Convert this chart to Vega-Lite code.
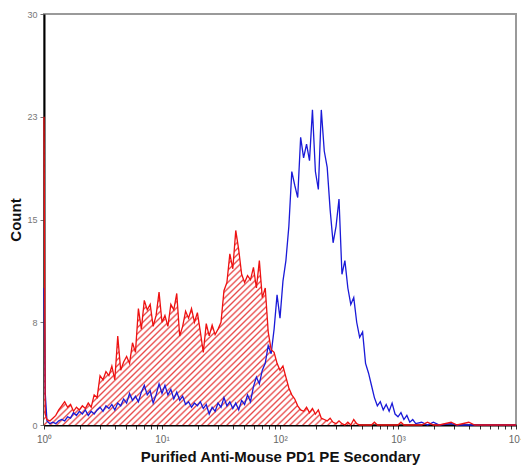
{
  "$schema": "https://vega.github.io/schema/vega-lite/v6.json",
  "width": 472,
  "height": 411,
  "autosize": {"type": "none"},
  "padding": {"left": 44, "top": 14, "right": 5, "bottom": 43},
  "background": "white",
  "config": {
    "view": {"stroke": "#9a9a9a", "strokeWidth": 2},
    "font": "Liberation Sans"
  },
  "data": {"values": [
    {"ch": 1, "isotype": 22.5, "pd1": 10},
    {"ch": 1.0233, "isotype": 0.8, "pd1": 2.4},
    {"ch": 1.0593, "isotype": 0.4, "pd1": 0.3},
    {"ch": 1.122, "isotype": 0.3, "pd1": 0.1},
    {"ch": 1.1885, "isotype": 0.5, "pd1": 0.2},
    {"ch": 1.2589, "isotype": 0.7, "pd1": 0.1},
    {"ch": 1.3335, "isotype": 1.1, "pd1": 0.3},
    {"ch": 1.4125, "isotype": 1.4, "pd1": 0.4},
    {"ch": 1.4962, "isotype": 1.7, "pd1": 0.3},
    {"ch": 1.5849, "isotype": 1.3, "pd1": 0.6},
    {"ch": 1.6788, "isotype": 1.5, "pd1": 0.5},
    {"ch": 1.7783, "isotype": 1.0, "pd1": 0.9},
    {"ch": 1.8836, "isotype": 1.3, "pd1": 0.7},
    {"ch": 1.9953, "isotype": 1.1, "pd1": 1.0},
    {"ch": 2.1135, "isotype": 1.4, "pd1": 0.8},
    {"ch": 2.2387, "isotype": 1.2, "pd1": 1.1},
    {"ch": 2.3714, "isotype": 1.6, "pd1": 0.7},
    {"ch": 2.5119, "isotype": 1.3, "pd1": 1.0},
    {"ch": 2.6607, "isotype": 2.2, "pd1": 0.8},
    {"ch": 2.8184, "isotype": 2.0, "pd1": 1.1},
    {"ch": 2.9854, "isotype": 3.6, "pd1": 1.3},
    {"ch": 3.1623, "isotype": 3.3, "pd1": 1.0},
    {"ch": 3.3497, "isotype": 3.9, "pd1": 1.4},
    {"ch": 3.5481, "isotype": 3.6, "pd1": 1.2},
    {"ch": 3.7584, "isotype": 4.3, "pd1": 1.5},
    {"ch": 3.9811, "isotype": 3.3, "pd1": 1.1},
    {"ch": 4.217, "isotype": 6.5, "pd1": 1.6},
    {"ch": 4.4668, "isotype": 4.0, "pd1": 1.4},
    {"ch": 4.7315, "isotype": 4.6, "pd1": 1.9},
    {"ch": 5.0119, "isotype": 5.0, "pd1": 1.6},
    {"ch": 5.3088, "isotype": 4.5, "pd1": 2.3},
    {"ch": 5.6234, "isotype": 6.0, "pd1": 1.8},
    {"ch": 5.9566, "isotype": 5.3, "pd1": 2.1},
    {"ch": 6.3096, "isotype": 8.5, "pd1": 1.7},
    {"ch": 6.6834, "isotype": 7.0, "pd1": 2.4},
    {"ch": 7.0795, "isotype": 9.1, "pd1": 2.9},
    {"ch": 7.4989, "isotype": 8.4, "pd1": 2.2},
    {"ch": 7.9433, "isotype": 8.8, "pd1": 2.5},
    {"ch": 8.414, "isotype": 7.2, "pd1": 1.6},
    {"ch": 8.9125, "isotype": 8.0, "pd1": 2.2},
    {"ch": 9.4406, "isotype": 9.7, "pd1": 3.0},
    {"ch": 10, "isotype": 7.5, "pd1": 2.3},
    {"ch": 10.593, "isotype": 8.0, "pd1": 2.9},
    {"ch": 11.22, "isotype": 7.2, "pd1": 2.2},
    {"ch": 11.885, "isotype": 8.8, "pd1": 2.6},
    {"ch": 12.589, "isotype": 8.4, "pd1": 1.9},
    {"ch": 13.335, "isotype": 9.6, "pd1": 2.4},
    {"ch": 14.125, "isotype": 6.5, "pd1": 1.8},
    {"ch": 14.962, "isotype": 7.2, "pd1": 2.1},
    {"ch": 15.849, "isotype": 8.3, "pd1": 1.5},
    {"ch": 16.788, "isotype": 7.8, "pd1": 1.7},
    {"ch": 17.783, "isotype": 8.5, "pd1": 1.3},
    {"ch": 18.836, "isotype": 7.5, "pd1": 1.6},
    {"ch": 19.953, "isotype": 8.2, "pd1": 1.4},
    {"ch": 21.135, "isotype": 6.8, "pd1": 1.7},
    {"ch": 22.387, "isotype": 5.3, "pd1": 1.2},
    {"ch": 23.714, "isotype": 7.4, "pd1": 1.5},
    {"ch": 25.119, "isotype": 6.5, "pd1": 0.8},
    {"ch": 26.607, "isotype": 7.3, "pd1": 1.3},
    {"ch": 28.184, "isotype": 6.6, "pd1": 1.0},
    {"ch": 29.854, "isotype": 7.0, "pd1": 1.6},
    {"ch": 31.623, "isotype": 7.5, "pd1": 1.3},
    {"ch": 33.497, "isotype": 9.8, "pd1": 2.0},
    {"ch": 35.481, "isotype": 10.4, "pd1": 1.4},
    {"ch": 37.584, "isotype": 12.5, "pd1": 1.7},
    {"ch": 39.811, "isotype": 11.4, "pd1": 1.2},
    {"ch": 42.17, "isotype": 14.2, "pd1": 1.6},
    {"ch": 44.668, "isotype": 12.8, "pd1": 1.1},
    {"ch": 47.315, "isotype": 11.0, "pd1": 1.8},
    {"ch": 50.119, "isotype": 10.4, "pd1": 1.5},
    {"ch": 53.088, "isotype": 10.9, "pd1": 2.2},
    {"ch": 56.234, "isotype": 10.6, "pd1": 1.7},
    {"ch": 59.566, "isotype": 11.5, "pd1": 2.8},
    {"ch": 63.096, "isotype": 10.0, "pd1": 3.5},
    {"ch": 66.834, "isotype": 12.0, "pd1": 3.0},
    {"ch": 70.795, "isotype": 9.3, "pd1": 4.0},
    {"ch": 74.989, "isotype": 10.0, "pd1": 4.5},
    {"ch": 79.433, "isotype": 6.8, "pd1": 5.8},
    {"ch": 84.14, "isotype": 5.5, "pd1": 5.2},
    {"ch": 89.125, "isotype": 5.3, "pd1": 7.0},
    {"ch": 94.406, "isotype": 4.5, "pd1": 9.5},
    {"ch": 100, "isotype": 4.0, "pd1": 7.8},
    {"ch": 105.93, "isotype": 4.3, "pd1": 10.5},
    {"ch": 112.2, "isotype": 3.5, "pd1": 12.0},
    {"ch": 118.85, "isotype": 2.7, "pd1": 14.5},
    {"ch": 125.89, "isotype": 2.2, "pd1": 18.5},
    {"ch": 133.35, "isotype": 1.9, "pd1": 17.5},
    {"ch": 141.25, "isotype": 1.4, "pd1": 16.6},
    {"ch": 149.62, "isotype": 1.1, "pd1": 21.0},
    {"ch": 158.49, "isotype": 1.0, "pd1": 19.5},
    {"ch": 167.88, "isotype": 1.3, "pd1": 20.5},
    {"ch": 177.83, "isotype": 0.9, "pd1": 19.3},
    {"ch": 188.36, "isotype": 1.2, "pd1": 23.0},
    {"ch": 199.53, "isotype": 0.8, "pd1": 18.5},
    {"ch": 211.35, "isotype": 1.1, "pd1": 17.2},
    {"ch": 223.87, "isotype": 0.5, "pd1": 23.0},
    {"ch": 237.14, "isotype": 0.4, "pd1": 20.0},
    {"ch": 251.19, "isotype": 0.3, "pd1": 18.8},
    {"ch": 266.07, "isotype": 0.5, "pd1": 15.7},
    {"ch": 281.84, "isotype": 0.2, "pd1": 13.3},
    {"ch": 298.54, "isotype": 0.1, "pd1": 14.5},
    {"ch": 316.23, "isotype": 0.3, "pd1": 16.5},
    {"ch": 334.97, "isotype": 0.1, "pd1": 11.0},
    {"ch": 354.81, "isotype": 0.0, "pd1": 12.0},
    {"ch": 375.84, "isotype": 0.2, "pd1": 10.0},
    {"ch": 398.11, "isotype": 0.0, "pd1": 8.8},
    {"ch": 421.7, "isotype": 0.4, "pd1": 9.3},
    {"ch": 446.68, "isotype": 0.1, "pd1": 7.5},
    {"ch": 473.15, "isotype": 0.0, "pd1": 6.4},
    {"ch": 501.19, "isotype": 0.0, "pd1": 6.8},
    {"ch": 530.88, "isotype": 0.0, "pd1": 4.5},
    {"ch": 562.34, "isotype": 0.0, "pd1": 3.8},
    {"ch": 595.66, "isotype": 0.0, "pd1": 2.9},
    {"ch": 630.96, "isotype": 0.2, "pd1": 2.0},
    {"ch": 668.34, "isotype": 0.0, "pd1": 1.4},
    {"ch": 707.95, "isotype": 0.0, "pd1": 1.7},
    {"ch": 749.89, "isotype": 0.0, "pd1": 1.1},
    {"ch": 794.33, "isotype": 0.0, "pd1": 1.5},
    {"ch": 841.4, "isotype": 0.0, "pd1": 1.0},
    {"ch": 891.25, "isotype": 0.0, "pd1": 1.6},
    {"ch": 944.06, "isotype": 0.0, "pd1": 0.8},
    {"ch": 1000, "isotype": 0.0, "pd1": 0.6},
    {"ch": 1059.3, "isotype": 0.2, "pd1": 0.9},
    {"ch": 1122, "isotype": 0.0, "pd1": 0.4},
    {"ch": 1188.5, "isotype": 0.0, "pd1": 0.7},
    {"ch": 1258.9, "isotype": 0.0, "pd1": 0.2},
    {"ch": 1333.5, "isotype": 0.0, "pd1": 0.4},
    {"ch": 1412.5, "isotype": 0.0, "pd1": 0.1},
    {"ch": 1584.9, "isotype": 0.0, "pd1": 0.2},
    {"ch": 1778.3, "isotype": 0.2, "pd1": 0.0},
    {"ch": 1995.3, "isotype": 0.0, "pd1": 0.2},
    {"ch": 2238.7, "isotype": 0.0, "pd1": 0.0},
    {"ch": 2818.4, "isotype": 0.2, "pd1": 0.1},
    {"ch": 3162.3, "isotype": 0.0, "pd1": 0.0},
    {"ch": 3981.1, "isotype": 0.2, "pd1": 0.0},
    {"ch": 4466.8, "isotype": 0.0, "pd1": 0.0},
    {"ch": 10000, "isotype": 0.0, "pd1": 0.0}
  ]},
  "encoding": {
    "x": {
      "field": "ch", "type": "quantitative",
      "scale": {"type": "log", "domain": [1, 10000], "nice": false},
      "axis": {
        "title": "Purified Anti-Mouse PD1 PE Secondary",
        "titleFontSize": 15, "titleFontWeight": "bold", "titleColor": "#111",
        "titlePadding": 5,
        "values": [1,2,3,4,5,6,7,8,9,10,20,30,40,50,60,70,80,90,100,200,300,400,500,600,700,800,900,1000,2000,3000,4000,5000,6000,7000,8000,9000,10000],
        "labelExpr": "datum.value==1?'10⁰':datum.value==10?'10¹':datum.value==100?'10²':datum.value==1000?'10³':datum.value==10000?'10⁴':''",
        "labelOverlap": false, "labelFlush": false,
        "labelFontSize": 10, "labelColor": "#666", "labelPadding": 5,
        "tickSize": 4, "tickColor": "#333",
        "domainColor": "#000", "domainWidth": 2,
        "grid": false
      }
    },
    "y": {
      "type": "quantitative",
      "scale": {"domain": [0, 30], "nice": false},
      "axis": {
        "title": "Count",
        "titleFontSize": 15, "titleFontWeight": "bold", "titleColor": "#111",
        "titlePadding": 3,
        "values": [0, 7.5, 15, 22.5, 30],
        "format": ".0f",
        "labelFontSize": 9, "labelColor": "#777", "labelPadding": 3,
        "tickSize": 4, "tickColor": "#777",
        "domainColor": "#000", "domainWidth": 2,
        "grid": false
      }
    }
  },
  "layer": [
    {
      "transform": [{"filter": "datum.ch <= 480"}],
      "mark": {
        "type": "area",
        "fill": {"gradient": "linear", "x1": 0, "y1": 0, "x2": 1, "y2": 1, "stops": [
          {"offset":0,"color":"#e84848"},{"offset":0.003,"color":"#fff"},{"offset":0.007,"color":"#fff"},
          {"offset":0.01,"color":"#e84848"},{"offset":0.013,"color":"#fff"},{"offset":0.017,"color":"#fff"},
          {"offset":0.02,"color":"#e84848"},{"offset":0.023,"color":"#fff"},{"offset":0.027,"color":"#fff"},
          {"offset":0.03,"color":"#e84848"},{"offset":0.033,"color":"#fff"},{"offset":0.037,"color":"#fff"},
          {"offset":0.04,"color":"#e84848"},{"offset":0.043,"color":"#fff"},{"offset":0.047,"color":"#fff"},
          {"offset":0.05,"color":"#e84848"},{"offset":0.053,"color":"#fff"},{"offset":0.057,"color":"#fff"},
          {"offset":0.06,"color":"#e84848"},{"offset":0.063,"color":"#fff"},{"offset":0.067,"color":"#fff"},
          {"offset":0.07,"color":"#e84848"},{"offset":0.073,"color":"#fff"},{"offset":0.077,"color":"#fff"},
          {"offset":0.08,"color":"#e84848"},{"offset":0.083,"color":"#fff"},{"offset":0.087,"color":"#fff"},
          {"offset":0.09,"color":"#e84848"},{"offset":0.093,"color":"#fff"},{"offset":0.097,"color":"#fff"},
          {"offset":0.1,"color":"#e84848"},{"offset":0.103,"color":"#fff"},{"offset":0.107,"color":"#fff"},
          {"offset":0.11,"color":"#e84848"},{"offset":0.113,"color":"#fff"},{"offset":0.117,"color":"#fff"},
          {"offset":0.12,"color":"#e84848"},{"offset":0.123,"color":"#fff"},{"offset":0.127,"color":"#fff"},
          {"offset":0.13,"color":"#e84848"},{"offset":0.133,"color":"#fff"},{"offset":0.137,"color":"#fff"},
          {"offset":0.14,"color":"#e84848"},{"offset":0.143,"color":"#fff"},{"offset":0.147,"color":"#fff"},
          {"offset":0.15,"color":"#e84848"},{"offset":0.153,"color":"#fff"},{"offset":0.157,"color":"#fff"},
          {"offset":0.16,"color":"#e84848"},{"offset":0.163,"color":"#fff"},{"offset":0.167,"color":"#fff"},
          {"offset":0.17,"color":"#e84848"},{"offset":0.173,"color":"#fff"},{"offset":0.177,"color":"#fff"},
          {"offset":0.18,"color":"#e84848"},{"offset":0.183,"color":"#fff"},{"offset":0.187,"color":"#fff"},
          {"offset":0.19,"color":"#e84848"},{"offset":0.193,"color":"#fff"},{"offset":0.197,"color":"#fff"},
          {"offset":0.2,"color":"#e84848"},{"offset":0.203,"color":"#fff"},{"offset":0.207,"color":"#fff"},
          {"offset":0.21,"color":"#e84848"},{"offset":0.213,"color":"#fff"},{"offset":0.217,"color":"#fff"},
          {"offset":0.22,"color":"#e84848"},{"offset":0.223,"color":"#fff"},{"offset":0.227,"color":"#fff"},
          {"offset":0.23,"color":"#e84848"},{"offset":0.233,"color":"#fff"},{"offset":0.237,"color":"#fff"},
          {"offset":0.24,"color":"#e84848"},{"offset":0.243,"color":"#fff"},{"offset":0.247,"color":"#fff"},
          {"offset":0.25,"color":"#e84848"},{"offset":0.253,"color":"#fff"},{"offset":0.257,"color":"#fff"},
          {"offset":0.26,"color":"#e84848"},{"offset":0.263,"color":"#fff"},{"offset":0.267,"color":"#fff"},
          {"offset":0.27,"color":"#e84848"},{"offset":0.273,"color":"#fff"},{"offset":0.277,"color":"#fff"},
          {"offset":0.28,"color":"#e84848"},{"offset":0.283,"color":"#fff"},{"offset":0.287,"color":"#fff"},
          {"offset":0.29,"color":"#e84848"},{"offset":0.293,"color":"#fff"},{"offset":0.297,"color":"#fff"},
          {"offset":0.3,"color":"#e84848"},{"offset":0.303,"color":"#fff"},{"offset":0.307,"color":"#fff"},
          {"offset":0.31,"color":"#e84848"},{"offset":0.313,"color":"#fff"},{"offset":0.317,"color":"#fff"},
          {"offset":0.32,"color":"#e84848"},{"offset":0.323,"color":"#fff"},{"offset":0.327,"color":"#fff"},
          {"offset":0.33,"color":"#e84848"},{"offset":0.333,"color":"#fff"},{"offset":0.337,"color":"#fff"},
          {"offset":0.34,"color":"#e84848"},{"offset":0.343,"color":"#fff"},{"offset":0.347,"color":"#fff"},
          {"offset":0.35,"color":"#e84848"},{"offset":0.353,"color":"#fff"},{"offset":0.357,"color":"#fff"},
          {"offset":0.36,"color":"#e84848"},{"offset":0.363,"color":"#fff"},{"offset":0.367,"color":"#fff"},
          {"offset":0.37,"color":"#e84848"},{"offset":0.373,"color":"#fff"},{"offset":0.377,"color":"#fff"},
          {"offset":0.38,"color":"#e84848"},{"offset":0.383,"color":"#fff"},{"offset":0.387,"color":"#fff"},
          {"offset":0.39,"color":"#e84848"},{"offset":0.393,"color":"#fff"},{"offset":0.397,"color":"#fff"},
          {"offset":0.4,"color":"#e84848"},{"offset":0.403,"color":"#fff"},{"offset":0.407,"color":"#fff"},
          {"offset":0.41,"color":"#e84848"},{"offset":0.413,"color":"#fff"},{"offset":0.417,"color":"#fff"},
          {"offset":0.42,"color":"#e84848"},{"offset":0.423,"color":"#fff"},{"offset":0.427,"color":"#fff"},
          {"offset":0.43,"color":"#e84848"},{"offset":0.433,"color":"#fff"},{"offset":0.437,"color":"#fff"},
          {"offset":0.44,"color":"#e84848"},{"offset":0.443,"color":"#fff"},{"offset":0.447,"color":"#fff"},
          {"offset":0.45,"color":"#e84848"},{"offset":0.453,"color":"#fff"},{"offset":0.457,"color":"#fff"},
          {"offset":0.46,"color":"#e84848"},{"offset":0.463,"color":"#fff"},{"offset":0.467,"color":"#fff"},
          {"offset":0.47,"color":"#e84848"},{"offset":0.473,"color":"#fff"},{"offset":0.477,"color":"#fff"},
          {"offset":0.48,"color":"#e84848"},{"offset":0.483,"color":"#fff"},{"offset":0.487,"color":"#fff"},
          {"offset":0.49,"color":"#e84848"},{"offset":0.493,"color":"#fff"},{"offset":0.497,"color":"#fff"},
          {"offset":0.5,"color":"#e84848"},{"offset":0.503,"color":"#fff"},{"offset":0.507,"color":"#fff"},
          {"offset":0.51,"color":"#e84848"},{"offset":0.513,"color":"#fff"},{"offset":0.517,"color":"#fff"},
          {"offset":0.52,"color":"#e84848"},{"offset":0.523,"color":"#fff"},{"offset":0.527,"color":"#fff"},
          {"offset":0.53,"color":"#e84848"},{"offset":0.533,"color":"#fff"},{"offset":0.537,"color":"#fff"},
          {"offset":0.54,"color":"#e84848"},{"offset":0.543,"color":"#fff"},{"offset":0.547,"color":"#fff"},
          {"offset":0.55,"color":"#e84848"},{"offset":0.553,"color":"#fff"},{"offset":0.557,"color":"#fff"},
          {"offset":0.56,"color":"#e84848"},{"offset":0.563,"color":"#fff"},{"offset":0.567,"color":"#fff"},
          {"offset":0.57,"color":"#e84848"},{"offset":0.573,"color":"#fff"},{"offset":0.577,"color":"#fff"},
          {"offset":0.58,"color":"#e84848"},{"offset":0.583,"color":"#fff"},{"offset":0.587,"color":"#fff"},
          {"offset":0.59,"color":"#e84848"},{"offset":0.593,"color":"#fff"},{"offset":0.597,"color":"#fff"},
          {"offset":0.6,"color":"#e84848"},{"offset":0.603,"color":"#fff"},{"offset":0.607,"color":"#fff"},
          {"offset":0.61,"color":"#e84848"},{"offset":0.613,"color":"#fff"},{"offset":0.617,"color":"#fff"},
          {"offset":0.62,"color":"#e84848"},{"offset":0.623,"color":"#fff"},{"offset":0.627,"color":"#fff"},
          {"offset":0.63,"color":"#e84848"},{"offset":0.633,"color":"#fff"},{"offset":0.637,"color":"#fff"},
          {"offset":0.64,"color":"#e84848"},{"offset":0.643,"color":"#fff"},{"offset":0.647,"color":"#fff"},
          {"offset":0.65,"color":"#e84848"},{"offset":0.653,"color":"#fff"},{"offset":0.657,"color":"#fff"},
          {"offset":0.66,"color":"#e84848"},{"offset":0.663,"color":"#fff"},{"offset":0.667,"color":"#fff"},
          {"offset":0.67,"color":"#e84848"},{"offset":0.673,"color":"#fff"},{"offset":0.677,"color":"#fff"},
          {"offset":0.68,"color":"#e84848"},{"offset":0.683,"color":"#fff"},{"offset":0.687,"color":"#fff"},
          {"offset":0.69,"color":"#e84848"},{"offset":0.693,"color":"#fff"},{"offset":0.697,"color":"#fff"},
          {"offset":0.7,"color":"#e84848"},{"offset":0.703,"color":"#fff"},{"offset":0.707,"color":"#fff"},
          {"offset":0.71,"color":"#e84848"},{"offset":0.713,"color":"#fff"},{"offset":0.717,"color":"#fff"},
          {"offset":0.72,"color":"#e84848"},{"offset":0.723,"color":"#fff"},{"offset":0.727,"color":"#fff"},
          {"offset":0.73,"color":"#e84848"},{"offset":0.733,"color":"#fff"},{"offset":0.737,"color":"#fff"},
          {"offset":0.74,"color":"#e84848"},{"offset":0.743,"color":"#fff"},{"offset":0.747,"color":"#fff"},
          {"offset":0.75,"color":"#e84848"},{"offset":0.753,"color":"#fff"},{"offset":0.757,"color":"#fff"},
          {"offset":0.76,"color":"#e84848"},{"offset":0.763,"color":"#fff"},{"offset":0.767,"color":"#fff"},
          {"offset":0.77,"color":"#e84848"},{"offset":0.773,"color":"#fff"},{"offset":0.777,"color":"#fff"},
          {"offset":0.78,"color":"#e84848"},{"offset":0.783,"color":"#fff"},{"offset":0.787,"color":"#fff"},
          {"offset":0.79,"color":"#e84848"},{"offset":0.793,"color":"#fff"},{"offset":0.797,"color":"#fff"},
          {"offset":0.8,"color":"#e84848"},{"offset":0.803,"color":"#fff"},{"offset":0.807,"color":"#fff"},
          {"offset":0.81,"color":"#e84848"},{"offset":0.813,"color":"#fff"},{"offset":0.817,"color":"#fff"},
          {"offset":0.82,"color":"#e84848"},{"offset":0.823,"color":"#fff"},{"offset":0.827,"color":"#fff"},
          {"offset":0.83,"color":"#e84848"},{"offset":0.833,"color":"#fff"},{"offset":0.837,"color":"#fff"},
          {"offset":0.84,"color":"#e84848"},{"offset":0.843,"color":"#fff"},{"offset":0.847,"color":"#fff"},
          {"offset":0.85,"color":"#e84848"},{"offset":0.853,"color":"#fff"},{"offset":0.857,"color":"#fff"},
          {"offset":0.86,"color":"#e84848"},{"offset":0.863,"color":"#fff"},{"offset":0.867,"color":"#fff"},
          {"offset":0.87,"color":"#e84848"},{"offset":0.873,"color":"#fff"},{"offset":0.877,"color":"#fff"},
          {"offset":0.88,"color":"#e84848"},{"offset":0.883,"color":"#fff"},{"offset":0.887,"color":"#fff"},
          {"offset":0.89,"color":"#e84848"},{"offset":0.893,"color":"#fff"},{"offset":0.897,"color":"#fff"},
          {"offset":0.9,"color":"#e84848"},{"offset":0.903,"color":"#fff"},{"offset":0.907,"color":"#fff"},
          {"offset":0.91,"color":"#e84848"},{"offset":0.913,"color":"#fff"},{"offset":0.917,"color":"#fff"},
          {"offset":0.92,"color":"#e84848"},{"offset":0.923,"color":"#fff"},{"offset":0.927,"color":"#fff"},
          {"offset":0.93,"color":"#e84848"},{"offset":0.933,"color":"#fff"},{"offset":0.937,"color":"#fff"},
          {"offset":0.94,"color":"#e84848"},{"offset":0.943,"color":"#fff"},{"offset":0.947,"color":"#fff"},
          {"offset":0.95,"color":"#e84848"},{"offset":0.953,"color":"#fff"},{"offset":0.957,"color":"#fff"},
          {"offset":0.96,"color":"#e84848"},{"offset":0.963,"color":"#fff"},{"offset":0.967,"color":"#fff"},
          {"offset":0.97,"color":"#e84848"},{"offset":0.973,"color":"#fff"},{"offset":0.977,"color":"#fff"},
          {"offset":0.98,"color":"#e84848"},{"offset":0.983,"color":"#fff"},{"offset":0.987,"color":"#fff"},
          {"offset":0.99,"color":"#e84848"},{"offset":0.993,"color":"#fff"},{"offset":0.997,"color":"#fff"},
          {"offset":1,"color":"#e84848"}
        ]}
      },
      "encoding": {"y": {"field": "isotype"}}
    },
    {
      "mark": {"type": "line", "color": "#1a1ad8", "strokeWidth": 1.3},
      "encoding": {"y": {"field": "pd1"}}
    },
    {
      "mark": {"type": "line", "color": "#ee1111", "strokeWidth": 1.3},
      "encoding": {"y": {"field": "isotype"}}
    }
  ]
}
